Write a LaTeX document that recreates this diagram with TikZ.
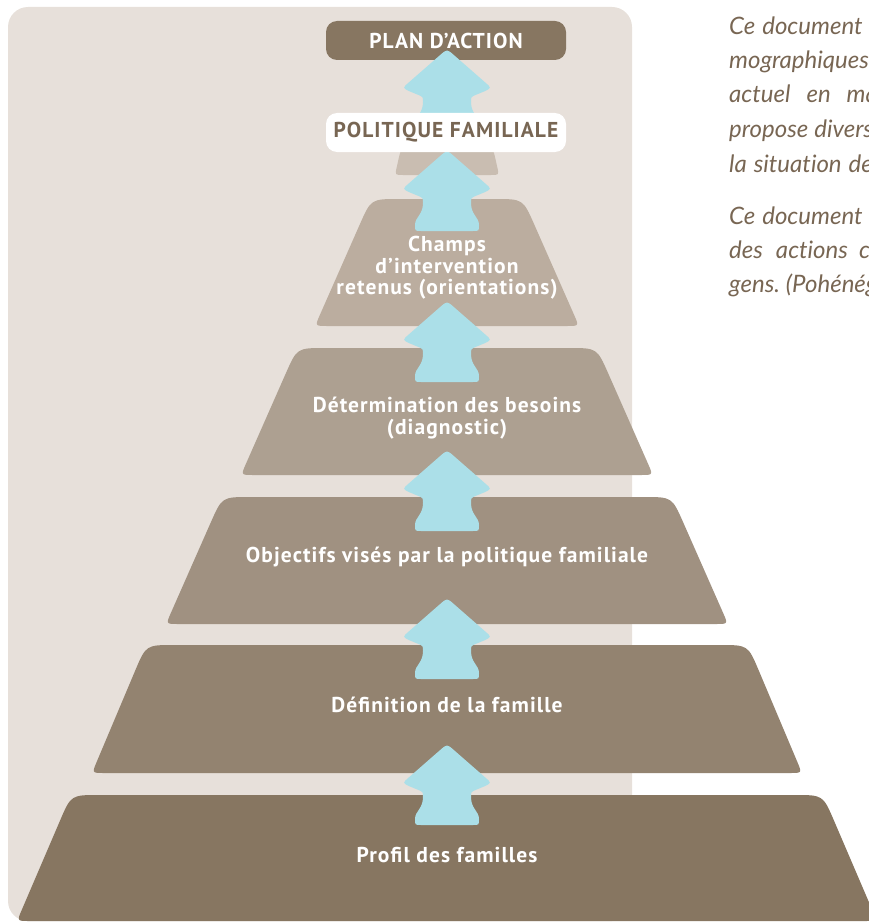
\documentclass[tikz,border=0pt]{standalone}
\usepackage{fontspec}
\usetikzlibrary{calc}
\newfontfamily\labfont[LetterSpace=5]{PT Sans}
\newfontfamily\bodyfont[Ligatures=NoCommon]{Lato}
\definecolor{panelc}{HTML}{E7E0DA}
\definecolor{lvA}{HTML}{877661}
\definecolor{lvB}{HTML}{938370}
\definecolor{lvC}{HTML}{A09181}
\definecolor{lvD}{HTML}{ADA091}
\definecolor{lvE}{HTML}{BBAD9F}
\definecolor{lvF}{HTML}{C9BDB1}
\definecolor{arrowc}{HTML}{ABDFE8}
\definecolor{bodyc}{HTML}{786653}
\definecolor{darkc}{HTML}{877661}
\newcommand\pyrlevel[7]{%
  \coordinate (BL) at (447-#4,#2);
  \coordinate (TL) at (447-#3,#1);
  \coordinate (TR) at (447+#3,#1);
  \coordinate (BR) at (447+#4,#2);
  \fill[#5] ($(BL)!#7pt!(BR)$) .. controls (BL) .. ($(BL)!#7pt!(TL)$)
     -- ($(TL)!#6pt!(BL)$) .. controls (TL) .. ($(TL)!#6pt!(TR)$)
     -- ($(TR)!#6pt!(TL)$) .. controls (TR) .. ($(TR)!#6pt!(BR)$)
     -- ($(BR)!#7pt!(TR)$) .. controls (BR) .. ($(BR)!#7pt!(BL)$)
     -- cycle;
}
\newcommand\pyrarrow[1]{%
  \begin{scope}[shift={(447,#1)}]
  \fill[arrowc] (-6.8,3) .. controls (0,-3) .. (6.8,3)
     -- (38.5,30.7) .. controls (44.5,36) .. (37,39.5)
     -- (28.5,43) .. controls (24,45) .. (24,50)
     .. controls (24,62) and (32,64) .. (32,72)
     .. controls (32,78) .. (26,78)
     -- (-26,78) .. controls (-32,78) .. (-32,72)
     .. controls (-32,64) and (-24,62) .. (-24,50)
     .. controls (-24,45) .. (-28.5,43)
     -- (-37,39.5) .. controls (-44.5,36) .. (-38.5,30.7)
     -- cycle;
  \end{scope}
}
\tikzset{
  lab/.style={font=\labfont\bfseries\fontsize{21.5}{21.5}\selectfont, text=white, align=center, inner sep=0pt},
  topbox/.style={rounded corners=11pt, minimum width=240pt, minimum height=39pt, inner sep=0pt,
     font=\labfont\bfseries\fontsize{21.5}{21.5}\selectfont},
  body/.style={font=\bodyfont\itshape\fontsize{24}{28}\selectfont, text=bodyc, anchor=base west, inner sep=0pt}
}
\begin{document}
\begin{tikzpicture}[x=1pt,y=-1pt]
\useasboundingbox (0,0) rectangle (868,923);
\fill[panelc, rounded corners=20pt] (8,7) rectangle (632,921);
% pyramid levels
\pyrlevel{795}{921}{376}{430}{lvA}{28}{12}
\pyrlevel{645}{773}{301}{355}{lvB}{28}{12}
\pyrlevel{497}{624}{225}{281}{lvC}{28}{12}
\pyrlevel{348}{475}{150}{206}{lvD}{28}{12}
\pyrlevel{199}{326}{76}{132}{lvE}{28}{12}
\pyrlevel{148}{175}{46}{52}{lvF}{12}{8}
% top box
\node[topbox, fill=darkc, text=white] (plan) at (446,40.5) {PLAN D’ACTION};
% arrows
\pyrarrow{52}
\pyrarrow{153}
\pyrarrow{304}
\pyrarrow{453}
\pyrarrow{601}
\pyrarrow{747}
\node[topbox, fill=white, text=bodyc] (politique) at (446,132.5) {POLITIQUE FAMILIALE};
% labels
\node[lab] (champs) at (447,268) {Champs\\d’intervention\\retenus (orientations)};
\node[lab] (besoins) at (447,418) {Détermination des besoins\\(diagnostic)};
\node[lab] (objectifs) at (447,557) {Objectifs visés par la politique familiale};
\node[lab] (definition) at (447,705) {Définition de la famille};
\node[lab] (profil) at (447,855) {Profil des familles};
% side text
\node[body] (t1) at (729,35) {Ce\hspace{7pt}document};
\node[body] (t2) at (729,69) {mographiques};
\node[body] (t3) at (729,103) {actuel\hspace{16pt}en\hspace{16pt}ma};
\node[body] (t4) at (729,137) {propose\hspace{6pt}divers};
\node[body] (t5) at (729,172) {la\hspace{7pt}situation\hspace{7pt}de};
\node[body] (t6) at (729,224) {Ce\hspace{7pt}document};
\node[body] (t7) at (729,258) {des\hspace{13pt}actions\hspace{11pt}co};
\node[body] (t8) at (729,292) {gens.\hspace{6pt}(Pohénég};
\end{tikzpicture}
\end{document}
